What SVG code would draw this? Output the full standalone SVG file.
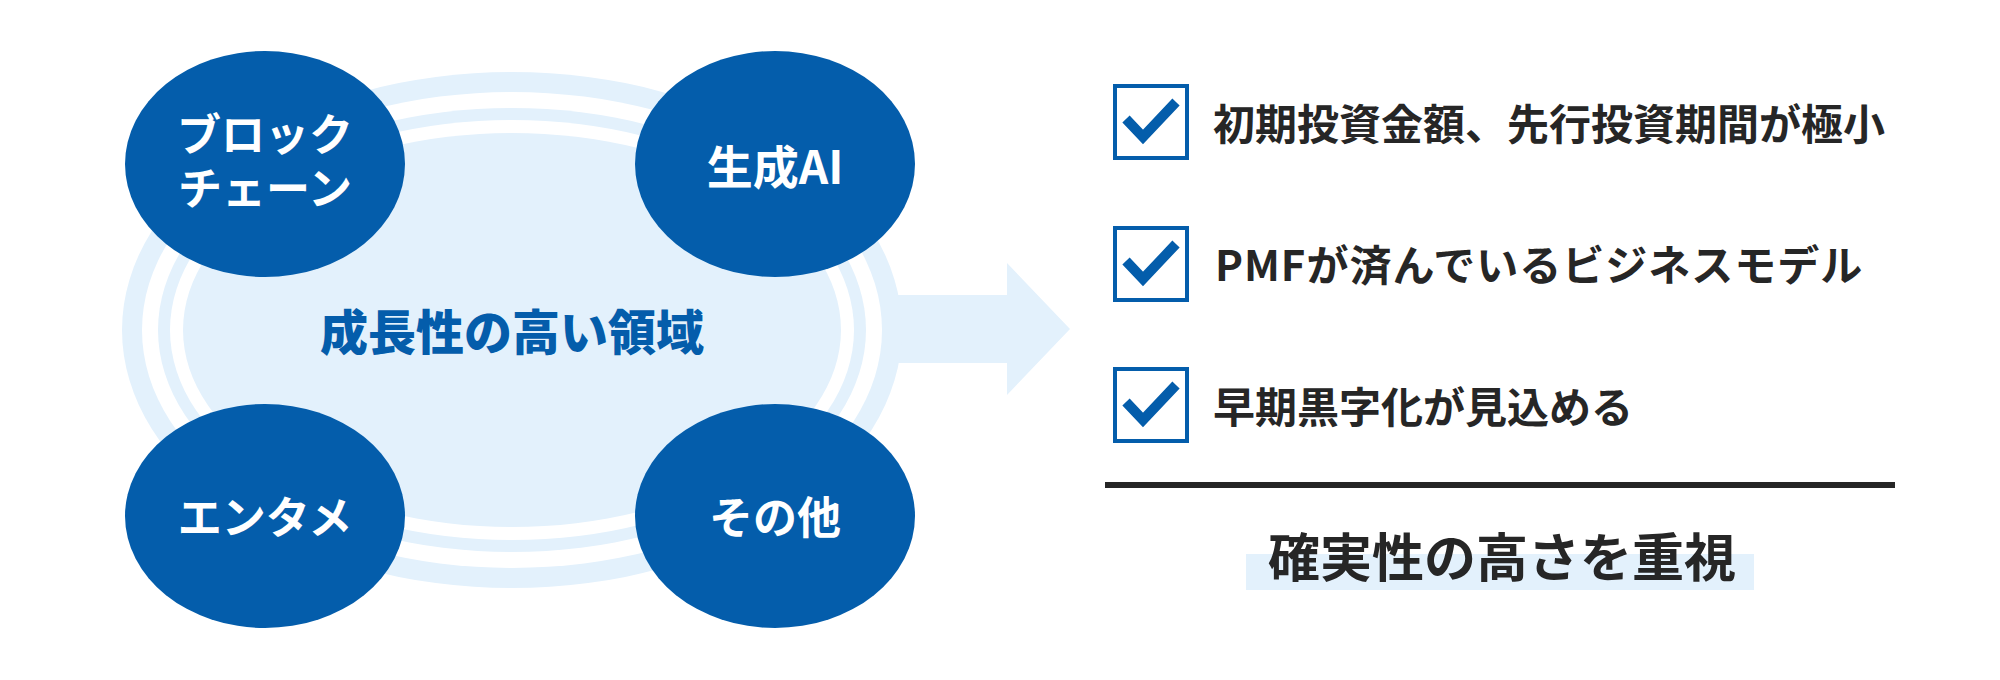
<svg xmlns="http://www.w3.org/2000/svg" width="2000" height="680" viewBox="0 0 2000 680">
  <defs>
    <style>
      .lb { fill: #E3F1FC; }
      .wh { fill: #FFFFFF; }
      .node { fill: #045DAB; }
      .nlabel { font-family: "Noto Sans CJK JP", "Noto Sans", sans-serif; font-weight: 700; font-size: 44px; fill: #FFFFFF; text-anchor: middle; dominant-baseline: central; }
      .center { font-family: "Noto Sans CJK JP", "Noto Sans", sans-serif; font-weight: 900; font-size: 48px; fill: #045DAB; text-anchor: middle; dominant-baseline: central; }
      .box { fill: #FFFFFF; stroke: #045DAB; stroke-width: 4; }
      .check { fill: none; stroke: #045DAB; stroke-width: 10; stroke-linecap: butt; stroke-linejoin: miter; }
      .item { font-family: "Noto Sans CJK JP", "Noto Sans", sans-serif; font-weight: 700; font-size: 42px; fill: #262626; dominant-baseline: central; }
      .summary { font-family: "Noto Sans CJK JP", "Noto Sans", sans-serif; font-weight: 700; font-size: 52px; fill: #262626; text-anchor: middle; dominant-baseline: central; }
    </style>
    <g id="checkbox">
      <rect class="box" x="2" y="2" width="72" height="72"/>
      <polyline class="check" points="13,35 30,53 63,18"/>
    </g>
  </defs>

  <g id="connectors">
    <polygon class="lb" points="880,295 1007,295 1007,263 1070,329 1007,395 1007,363 880,363"/>
  </g>

  <g id="area">
    <ellipse class="lb" cx="512" cy="330" rx="390" ry="258"/>
    <ellipse class="wh" cx="512" cy="330" rx="370" ry="238"/>
    <ellipse class="lb" cx="512" cy="330" rx="354" ry="222"/>
    <ellipse class="wh" cx="512" cy="330" rx="342" ry="210"/>
    <ellipse class="lb" cx="512" cy="330" rx="329" ry="197"/>
    <text class="center" x="512" y="329">成長性の高い領域</text>
  </g>

  <g id="node-blockchain">
    <ellipse class="node" cx="265" cy="164" rx="140" ry="113"/>
    <text class="nlabel"><tspan x="265" y="132">ブロック</tspan><tspan x="265" y="186">チェーン</tspan></text>
  </g>
  <g id="node-genai">
    <ellipse class="node" cx="775" cy="164" rx="140" ry="113"/>
    <text class="nlabel" x="775" y="164" style="font-size:46px">生成AI</text>
  </g>
  <g id="node-entame">
    <ellipse class="node" cx="265" cy="516" rx="140" ry="112"/>
    <text class="nlabel" x="265" y="515">エンタメ</text>
  </g>
  <g id="node-other">
    <ellipse class="node" cx="775" cy="516" rx="140" ry="112"/>
    <text class="nlabel" x="775" y="515">その他</text>
  </g>

  <g id="check-1">
    <use href="#checkbox" x="1113" y="84"/>
    <text class="item" x="1213" y="121">初期投資金額、先行投資期間が極小</text>
  </g>
  <g id="check-2">
    <use href="#checkbox" x="1113" y="226"/>
    <text class="item" x="1215" y="262" letter-spacing="1">PMFが済んでいるビジネスモデル</text>
  </g>
  <g id="check-3">
    <use href="#checkbox" x="1113" y="367"/>
    <text class="item" x="1213" y="404">早期黒字化が見込める</text>
  </g>

  <g id="summary">
    <rect x="1105" y="482" width="790" height="6" fill="#262626"/>
    <rect class="lb" x="1246" y="554" width="508" height="36"/>
    <text class="summary" x="1502" y="554">確実性の高さを重視</text>
  </g>
</svg>
